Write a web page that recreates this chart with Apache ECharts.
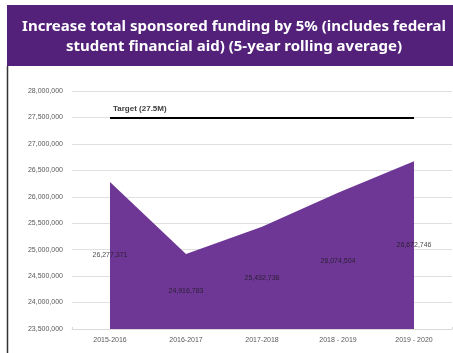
<!DOCTYPE html>
<html><head><meta charset="utf-8">
<script src="https://cdn.jsdelivr.net/npm/echarts@6/dist/echarts.min.js"></script>
<style>html,body{margin:0;padding:0;background:#fff}#c{width:453px;height:353px}</style>
</head><body><div id="c"></div>
<script>
var categories = ['2015-2016', '2016-2017', '2017-2018', '2018 - 2019', '2019 - 2020'];
var funding = [26277371, 24916783, 25432738, 26074504, 26672746];
var target = 27500000;
var yMin = 23500000, yMax = 28000000, yStep = 500000;

var labelPoints = funding.map(function (v, i) { return [i, (v + yMin) / 2, v]; });

var chart = echarts.init(document.getElementById('c'), null, {renderer: 'canvas'});
chart.setOption({
  animation: false,
  graphic: [
    {type: 'rect', shape: {x: 7, y: 5, width: 446, height: 61}, style: {fill: '#53217a'}, z: 0},
    {type: 'line', shape: {x1: 7.5, y1: 66, x2: 7.5, y2: 353}, style: {stroke: '#333', lineWidth: 1.5}},
    {type: 'text', x: 234, y: 37, style: {
      text: 'Increase total sponsored funding by 5% (includes federal\nstudent financial aid) (5-year rolling average)',
      fill: '#fff', font: 'bold 15px "Noto Sans", "Open Sans", sans-serif', align: 'center', verticalAlign: 'middle', lineHeight: 20
    }}
  ],
  grid: {left: 72, right: 1, top: 91, bottom: 24},
  xAxis: {
    type: 'category', data: categories, boundaryGap: true,
    axisLine: {lineStyle: {color: '#d9d9d9'}},
    axisTick: {show: true, length: 2, inside: true, lineStyle: {color: '#d9d9d9'}},
    axisLabel: {color: '#595959', fontSize: 7, fontFamily: '"Liberation Sans", sans-serif', margin: 8}
  },
  yAxis: {
    type: 'value', min: yMin, max: yMax, interval: yStep,
    axisLine: {show: false}, axisTick: {show: false},
    splitLine: {lineStyle: {color: '#e0e0e0', width: 1}},
    axisLabel: {color: '#595959', fontSize: 7, margin: 9, fontFamily: '"Liberation Sans", sans-serif',
      formatter: function (v) { return v.toLocaleString('en-US'); }}
  },
  series: [
    {
      type: 'line', data: funding, symbol: 'none', z: 2,
      lineStyle: {width: 0, color: '#6e3795'},
      areaStyle: {color: '#6e3795', opacity: 1, origin: 'start'},
      markLine: {
        silent: true, symbol: 'none',
        lineStyle: {color: '#000', width: 2, type: 'solid'},
        label: {show: true, position: 'insideStartTop', formatter: 'Target (27.5M)', color: '#404040',
          fontSize: 8, fontWeight: 'bold', distance: [3, 5], fontFamily: '"Liberation Sans", sans-serif'},
        data: [[{coord: [0, target]}, {coord: [categories.length - 1, target]}]]
      }
    },
    {
      type: 'scatter', data: labelPoints, symbolSize: 1, silent: true, z: 10,
      itemStyle: {color: 'rgba(0,0,0,0)'},
      label: {show: true, position: 'inside', color: '#1a1a1a', fontSize: 7, fontFamily: '"Liberation Sans", sans-serif',
        formatter: function (p) { return p.data[2].toLocaleString('en-US'); }}
    }
  ]
});
</script></body></html>
